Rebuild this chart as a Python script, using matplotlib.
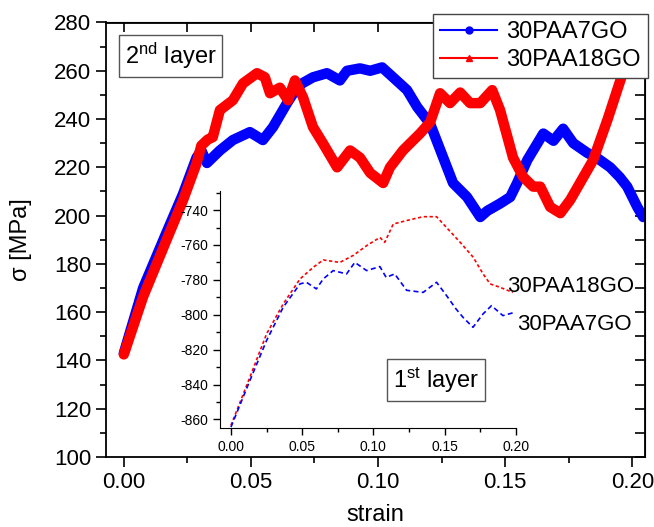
import numpy as np
import matplotlib
matplotlib.use("Agg")
import matplotlib.pyplot as plt
from matplotlib.lines import Line2D

plt.rcParams['font.family'] = ['Liberation Sans', 'DejaVu Sans']
plt.rcParams['mathtext.fontset'] = 'custom'
plt.rcParams['mathtext.rm'] = 'Liberation Sans'
plt.rcParams['mathtext.it'] = 'Liberation Sans:italic'
plt.rcParams['axes.unicode_minus'] = False

# 2nd layer (main plot)
strain_7go = [0.0, 0.0076, 0.0168, 0.0233, 0.0286, 0.0305, 0.0327, 0.0378, 0.0429,
              0.0496, 0.0547, 0.0587, 0.0642, 0.0681, 0.0705, 0.0744, 0.0799,
              0.0850, 0.0878, 0.0929, 0.0969, 0.1016, 0.1059, 0.1114, 0.1154,
              0.1205, 0.1295, 0.135, 0.1402, 0.143, 0.148, 0.152, 0.1547,
              0.1587, 0.165, 0.169, 0.1728, 0.1768, 0.1823, 0.186, 0.1913,
              0.195, 0.198, 0.202, 0.2043]
stress_7go = [143, 170, 193, 209, 224, 227, 221.8, 227, 231.3,
              234.6, 231.3, 236.7, 246.6, 253, 255, 257.3, 259,
              256, 260, 261, 260, 261.4, 257.3, 252, 245,
              238, 213.5, 207.7, 199.4, 202, 205, 207.7, 213.5,
              223, 234, 231, 236, 230, 226, 224, 220,
              216, 212, 203.5, 199.4]

strain_18go = [0.0, 0.0076, 0.0168, 0.0233, 0.0286, 0.0305, 0.033, 0.035, 0.0378,
               0.0429, 0.0469, 0.0524, 0.0555, 0.0575, 0.0614, 0.0646, 0.0673,
               0.0705, 0.0744, 0.0783, 0.0839, 0.0890, 0.0929, 0.0969, 0.1020,
               0.1047, 0.1098, 0.1165, 0.1205, 0.1244, 0.1283, 0.1323, 0.1362,
               0.1402, 0.1449, 0.1480, 0.1531, 0.1571, 0.1610, 0.1638, 0.1677,
               0.1717, 0.1756, 0.1846, 0.1902, 0.1953, 0.199]
stress_18go = [142.5, 166.4, 189.9, 206.4, 221.6, 229, 231.5, 232.5, 243.7,
               247.8, 254.8, 259, 257.3, 250.7, 253, 247.8, 256,
               249, 236.7, 230, 220, 227, 224, 217.7, 213.5,
               220, 227, 234, 238.7, 250.7, 246.6, 251, 246.6,
               246.6, 252, 243.7, 224, 216, 212, 212, 203.6,
               201, 206.5, 223, 239.6, 256, 268]

# 1st layer (inset)
in_strain_18go = [0.0, 0.0133, 0.025, 0.0367, 0.0485, 0.0578, 0.0648, 0.0765,
                  0.0859, 0.0953, 0.1046, 0.108, 0.114, 0.1234, 0.135, 0.1444,
                  0.1514, 0.161, 0.1701, 0.1771, 0.182, 0.189, 0.198]
in_stress_18go = [-863.4, -835.8, -811, -793.8, -779.5, -772.8, -768.6, -770,
                  -766, -760.4, -755.7, -758.5, -748, -746, -743.8, -743.8,
                  -750, -758.5, -767, -776.6, -782.3, -784.3, -787.2]

in_strain_7go = [0.0, 0.0133, 0.025, 0.0367, 0.0485, 0.053, 0.060, 0.0648,
                 0.0718, 0.0812, 0.087, 0.0953, 0.1046, 0.109, 0.115, 0.1234,
                 0.135, 0.1444, 0.1514, 0.158, 0.163, 0.170, 0.1771, 0.183,
                 0.191, 0.1994]
in_stress_7go = [-864.4, -837.7, -814.8, -795.7, -782.3, -781.4, -785.2, -779.5,
                 -774.7, -776.6, -770, -774.7, -772.4, -778.6, -776.6, -786,
                 -787.2, -781.4, -789, -796.6, -801.5, -807.2, -799.5, -794.8,
                 -800.5, -798.6]

W, H = 654, 527
fig = plt.figure(figsize=(W / 100, H / 100), dpi=100)

# main axes
ax = fig.add_axes([106 / W, 1 - 457 / H, (645 - 106) / W, (457 - 22.5) / H])
ax.plot(strain_7go, stress_7go, color='#0000ff', lw=7.5, solid_joinstyle='round',
        solid_capstyle='round')
ax.plot(strain_18go, stress_18go, color='#ff0000', lw=7.5, solid_joinstyle='round',
        solid_capstyle='round')
ax.set_xlim(-0.007, 0.205)
ax.set_ylim(100, 280)
ax.set_xticks(np.arange(0, 0.201, 0.05))
ax.set_xticks(np.arange(0, 0.201, 0.025), minor=True)
ax.set_yticks(np.arange(100, 281, 20))
ax.set_yticks(np.arange(100, 281, 10), minor=True)
ax.xaxis.set_major_formatter(matplotlib.ticker.FormatStrFormatter('%.2f'))
ax.tick_params(which='major', direction='out', length=7, width=1.2, labelsize=16)
ax.tick_params(which='minor', direction='out', length=4, width=1.2)
for s in ax.spines.values():
    s.set_linewidth(1.3)
ax.set_xlabel('strain', fontsize=17, labelpad=8)
ax.set_ylabel('σ [MPa]', fontsize=17, labelpad=16)

# mirrored ticks pointing inward on top and right
top = ax.secondary_xaxis('top')
top.set_xticks(np.arange(0, 0.201, 0.025))
top.tick_params(direction='in', length=7, width=1.2, labeltop=False)
right = ax.secondary_yaxis('right')
right.set_yticks(np.arange(100, 281, 10))
right.tick_params(direction='in', length=7, width=1.2, labelright=False)

# inset axes
ins = fig.add_axes([220 / W, 1 - 428.3 / H, (515.7 - 220) / W, (428.3 - 190.7) / H])
ins.patch.set_alpha(0)
ins.plot(in_strain_18go, in_stress_18go, color='#ff0000', lw=1.2, dashes=(2, 1.5))
ins.plot(in_strain_7go, in_stress_7go, color='#0000ff', lw=1.2, dashes=(3, 2))
ins.set_xlim(-0.0077, 0.2)
ins.set_ylim(-865.1, -728.9)
ins.set_xticks(np.arange(0, 0.201, 0.05))
ins.set_xticks(np.arange(0, 0.201, 0.025), minor=True)
ins.set_yticks(np.arange(-860, -739, 20))
ins.set_yticks(np.arange(-860, -729, 10), minor=True)
ins.xaxis.set_major_formatter(matplotlib.ticker.FormatStrFormatter('%.2f'))
ins.spines['top'].set_visible(False)
ins.spines['right'].set_visible(False)
ins.tick_params(which='major', direction='out', length=5, width=1, labelsize=10)
ins.tick_params(which='minor', direction='out', length=3, width=1)

fig.text(507 / W, 1 - 287 / H, '30PAA18GO', fontsize=16, ha='left', va='center')
fig.text(517 / W, 1 - 325 / H, '30PAA7GO', fontsize=16, ha='left', va='center')

box = dict(boxstyle='square,pad=0.25', facecolor='white', edgecolor='#555555', lw=1)
fig.text(170.5 / W, 1 - 56 / H, r'2$^{\mathrm{nd}}$ layer', fontsize=17,
         ha='center', va='center', bbox=box)
fig.text(436 / W, 1 - 380 / H, r'1$^{\mathrm{st}}$ layer', fontsize=17,
         ha='center', va='center', bbox=box)

handles = [Line2D([], [], color='#0000ff', lw=1.5, marker='o', ms=5),
           Line2D([], [], color='#ff0000', lw=1.5, marker='^', ms=5)]
leg = fig.legend(handles, ['30PAA7GO', '30PAA18GO'], loc='upper right',
                 bbox_to_anchor=(648 / W, 1 - 14 / H), fontsize=17,
                 frameon=True, fancybox=False, framealpha=1, edgecolor='#444444',
                 borderaxespad=0, borderpad=0.3, labelspacing=0.25,
                 handlelength=2.4, handletextpad=0.4)
leg.get_frame().set_linewidth(1)

fig.savefig('out.png', dpi=100)
